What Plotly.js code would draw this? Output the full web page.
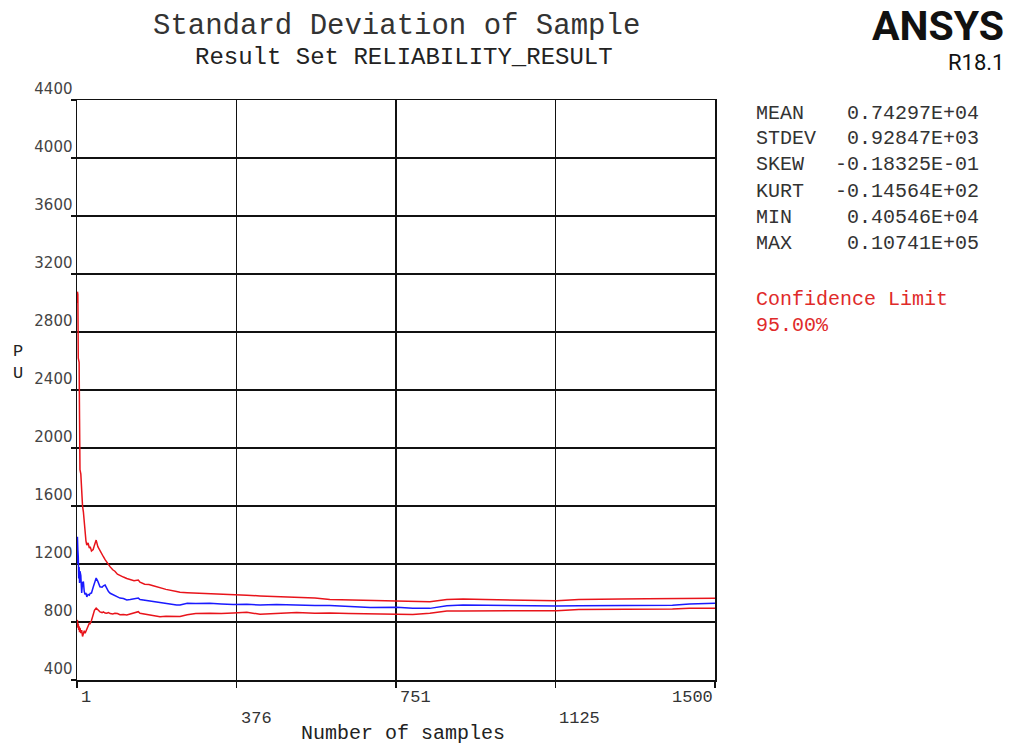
<!DOCTYPE html>
<html>
<head>
<meta charset="utf-8">
<script src="https://cdn.plot.ly/plotly-3.0.1.min.js"></script>
<style>html,body{margin:0;padding:0;background:#fff;}#chart{width:1011px;height:746px;}</style>
</head>
<body>
<div id="chart"></div>
<script>
// ---- data ----
const samples = [1,2,3,4,5,6,7,8,10,12,14,16,18,20,22,24,27,30,32,35,39,42,46,50,55,60,63,67,71,75,79,85,90,96,102,110,118,126,135,145,149,160,170,180,196,210,235,243,260,280,313,340,368,400,431,470,517,560,595,640,690,752,790,830,870,908,960,1010,1060,1128,1180,1222,1280,1340,1400,1440,1470,1500];
const upperLimit = [3000,3078,3060,2620,2600,2590,2200,1850,1820,1650,1600,1560,1480,1400,1360,1330,1345,1310,1320,1290,1300,1330,1365,1320,1290,1260,1250,1230,1210,1195,1180,1160,1150,1130,1120,1110,1100,1095,1085,1090,1075,1060,1058,1050,1035,1025,1010,1005,1002,1000,998,992,988,985,980,975,968,965,955,952,950,947,940,940,955,958,955,952,948,947,955,958,958,960,962,963,963,963];
const stdDev = [1200,1388,1300,1250,1100,1180,1069,1150,1120,1000,1070,1078,1010,990,1000,974,990,985,998,1000,1040,1070,1103,1080,1043,1040,1050,1055,1030,1010,998,990,980,975,965,962,952,955,960,965,955,950,948,940,935,930,917,918,930,928,930,925,920,922,917,920,915,913,913,908,900,901,895,894,912,917,915,912,910,910,912,912,913,913,915,924,929,929];
const lowerLimit = [800,814,760,790,745,770,730,760,723,745,700,723,740,723,735,750,770,792,790,810,850,880,896,885,870,865,870,862,860,865,858,855,860,858,850,852,848,855,865,871,860,855,850,845,837,840,837,838,850,858,860,858,862,868,853,860,866,860,862,858,855,855,852,860,876,876,877,877,878,878,887,887,888,888,890,894,894,894];

const xTickVals = [1,376,751,1125,1500];
const xTickText = ['1','376','751','1125','1500'];
const yTickVals = [400,800,1200,1600,2000,2400,2800,3200,3600,4000,4400];

const titleText = 'Standard Deviation of Sample';
const subtitleText = 'Result Set RELIABILITY_RESULT';
const xTitleText = 'Number of samples';
const yTitleText = 'P<br>U';
const statLabels = ['MEAN','STDEV','SKEW','KURT','MIN','MAX'];
const statValues = ['0.74297E+04','0.92847E+03','-0.18325E-01','-0.14564E+02','0.40546E+04','0.10741E+05'];
const confText = ['Confidence Limit','95.00%'];
const logoText = 'ANSYS';
const versionText = 'R18.1';

// ---- layout helpers (pixel -> paper) ----
const L = 77, R = 715, T = 100, B = 680;
const PX = p => (p - L) / (R - L);
const PY = p => (B - p) / (B - T);
const MONO = '"Courier New", "Liberation Mono", monospace';

const red = '#e8141b', blue = '#1a1aff';
const traces = [
  {x: samples, y: upperLimit, mode: 'lines', line: {color: red, width: 1.5}, hoverinfo: 'skip'},
  {x: samples, y: lowerLimit, mode: 'lines', line: {color: red, width: 1.5}, hoverinfo: 'skip'},
  {x: samples, y: stdDev, mode: 'lines', line: {color: blue, width: 1.5}, hoverinfo: 'skip'}
];

const ann = [];
ann.push({text: titleText, x: PX(397), y: PY(26), xref: 'paper', yref: 'paper', xanchor: 'center', yanchor: 'middle', showarrow: false, font: {family: MONO, size: 29, color: '#333'}});
ann.push({text: subtitleText, x: PX(404), y: PY(57), xref: 'paper', yref: 'paper', xanchor: 'center', yanchor: 'middle', showarrow: false, font: {family: MONO, size: 24, color: '#222'}});
ann.push({text: '<b>' + logoText + '</b>', x: PX(1006), y: PY(26), xref: 'paper', yref: 'paper', xanchor: 'right', yanchor: 'middle', showarrow: false, font: {family: '"Liberation Sans Narrow", "Roboto", "Liberation Sans", sans-serif', size: 41, color: '#111'}});
ann.push({text: versionText, x: PX(1006), y: PY(63), xref: 'paper', yref: 'paper', xanchor: 'right', yanchor: 'middle', showarrow: false, font: {family: '"Roboto", "Liberation Sans", sans-serif', size: 22, color: '#111'}});
statLabels.forEach((s, i) => {
  const py = 113 + i * 26;
  ann.push({text: s, x: PX(754), y: PY(py), xref: 'paper', yref: 'paper', xanchor: 'left', yanchor: 'middle', showarrow: false, font: {family: MONO, size: 20, color: '#333'}});
  ann.push({text: statValues[i], x: PX(981), y: PY(py), xref: 'paper', yref: 'paper', xanchor: 'right', yanchor: 'middle', showarrow: false, font: {family: MONO, size: 20, color: '#333'}});
});
confText.forEach((s, i) => {
  ann.push({text: s, x: PX(754), y: PY(299 + i * 26), xref: 'paper', yref: 'paper', xanchor: 'left', yanchor: 'middle', showarrow: false, font: {family: MONO, size: 20, color: '#e02a2a'}});
});
// x tick labels in two staggered rows, starting at the tick
xTickVals.forEach((v, i) => {
  const last = i === xTickVals.length - 1;
  ann.push({text: xTickText[i], x: v, xref: 'x', y: PY(i % 2 === 0 ? 697 : 718), yref: 'paper', xanchor: last ? 'right' : 'left', yanchor: 'middle', xshift: last ? 0 : 2, showarrow: false, font: {family: MONO, size: 17, color: '#333'}});
});
ann.push({text: xTitleText, x: PX(403), y: PY(733), xref: 'paper', yref: 'paper', xanchor: 'center', yanchor: 'middle', showarrow: false, font: {family: MONO, size: 20, color: '#222'}});
ann.push({text: yTitleText, x: PX(18), y: PY(362), xref: 'paper', yref: 'paper', xanchor: 'center', yanchor: 'middle', showarrow: false, font: {family: MONO, size: 17, color: '#222'}});

const layout = {
  width: 1011, height: 746,
  margin: {l: L, r: 1011 - R, t: T, b: 746 - B},
  paper_bgcolor: '#fff', plot_bgcolor: '#fff',
  showlegend: false,
  xaxis: {
    range: [1, 1500], tickvals: xTickVals, ticktext: xTickText, showticklabels: false,
    showgrid: true, gridcolor: '#111', gridwidth: 1.5, zeroline: false,
    showline: true, linecolor: '#111', linewidth: 1.5, mirror: true,
    ticks: 'outside', ticklen: 6, tickcolor: '#111', tickwidth: 1.5
  },
  yaxis: {
    range: [400, 4400], tickvals: yTickVals, ticktext: yTickVals.map(String),
    ticklabelposition: 'outside top',
    tickfont: {family: '"DejaVu Sans", sans-serif', size: 15, color: '#444'},
    showgrid: true, gridcolor: '#111', gridwidth: 1.5, zeroline: false,
    showline: true, linecolor: '#111', linewidth: 1.5, mirror: true,
    ticks: 'outside', ticklen: 5, tickcolor: '#111', tickwidth: 1.5
  },
  annotations: ann
};
Plotly.newPlot('chart', traces, layout, {displayModeBar: false, staticPlot: true});
</script>
</body>
</html>
